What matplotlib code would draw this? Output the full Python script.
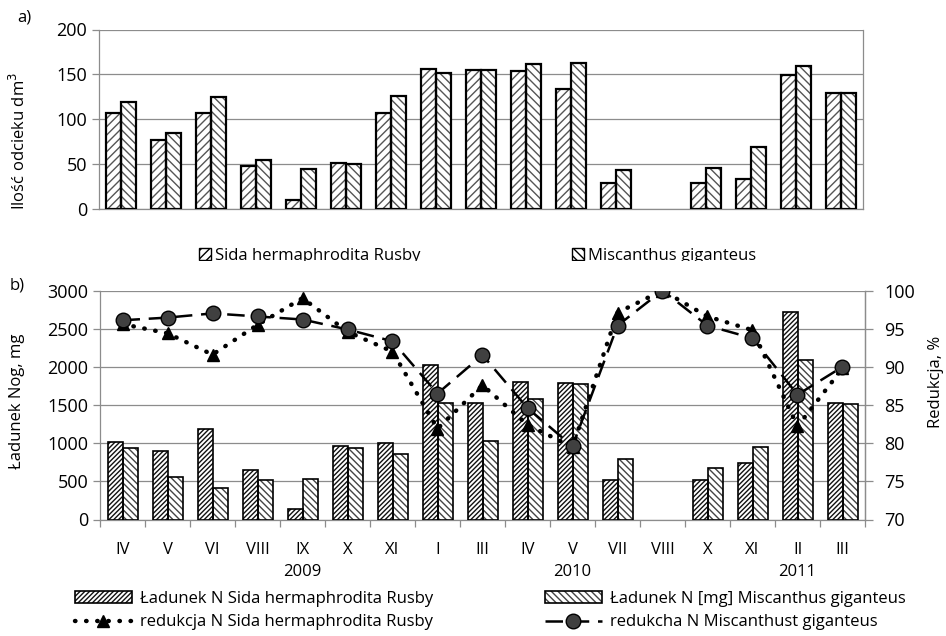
import numpy as np
import matplotlib
matplotlib.use("Agg")
import matplotlib.pyplot as plt
from matplotlib.patches import Patch, Rectangle
from matplotlib.lines import Line2D
from matplotlib.transforms import Bbox, TransformedBbox, blended_transform_factory

plt.rcParams["font.family"] = ["Open Sans", "DejaVu Sans"]
plt.rcParams["font.size"] = 12

nan = np.nan

# months along the x axis
months = ["IV", "V", "VI", "VIII", "IX", "X", "XI", "I", "III",
          "IV", "V", "VII", "VIII", "X", "XI", "II", "III"]
years = ["2009", "2010", "2011"]
year_pos = [4, 10, 15]

# a) leachate volume, dm3
leach_sida = [107, 77, 107, 47, 9, 51, 107, 156, 155, 154, 134, 28, nan, 28, 33, 149, 129]
leach_misc = [119, 84, 125, 54, 44, 50, 126, 151, 155, 162, 163, 43, nan, 45, 69, 159, 129]

# b) N load, mg
load_sida = [1017, 895, 1180, 645, 140, 965, 1004, 2026, 1526, 1798, 1785, 513, nan, 513, 737, 2719, 1526]
load_misc = [934, 561, 412, 513, 535, 934, 855, 1526, 1031, 1579, 1772, 798, nan, 675, 952, 2092, 1513]

# b) N reduction, %
red_sida = [95.6, 94.4, 91.6, 95.5, 99.0, 94.6, 92.0, 81.9, 87.6, 82.4, 79.5, 97.1, 100, 96.6, 94.8, 82.2, 89.8]
red_misc = [96.1, 96.45, 97.0, 96.6, 96.2, 94.9, 93.35, 86.5, 91.55, 84.6, 79.6, 95.4, 100, 95.4, 93.75, 86.35, 90.0]

GRID = "#8c8c8c"
W, H = 946, 636
TICK_FS = 13
TXT_FS = 12


def fx(px):
    return px / W


def fy(py):
    return 1 - py / H


def hatched_bars(ax, x, vals, width, hatch, hcolor, lw):
    ax.bar(x, vals, width, color="white", hatch=hatch, edgecolor=hcolor,
           linewidth=0, zorder=2)
    ax.bar(x, vals, width, fill=False, edgecolor="black", linewidth=lw, zorder=3)


def style_axis(ax):
    ax.spines["top"].set_visible(False)
    for s in ["left", "right", "bottom"]:
        ax.spines[s].set_color(GRID)
        ax.spines[s].set_linewidth(0.9)
    ax.yaxis.grid(True, color=GRID, linewidth=0.9)
    ax.set_axisbelow(True)
    ax.tick_params(axis="y", direction="out", length=5, color=GRID, width=0.9,
                   labelsize=TICK_FS)


fig = plt.figure(figsize=(9.46, 6.36), dpi=100)
x = np.arange(len(months))
bw = 1 / 3

# ---------------- panel a ----------------
ax1 = fig.add_axes([fx(99), fy(208.5), fx(863 - 99), (208.5 - 29.5) / H])
hatched_bars(ax1, x - bw / 2, leach_sida, bw, "////", "#555555", 1.6)
hatched_bars(ax1, x + bw / 2, leach_misc, bw, "\\\\\\\\", "#555555", 1.6)
ax1.set_xlim(-0.5, len(months) - 0.5)
ax1.set_ylim(0, 200)
ax1.set_yticks([0, 50, 100, 150, 200])
style_axis(ax1)
ax1.set_xticks([])

fig.text(fx(19), fy(141), "Ilość odcieku dm$^3$", rotation=90, ha="center",
         va="center", fontsize=TXT_FS)
fig.text(fx(24), fy(17), "a)", ha="center", va="center", fontsize=TXT_FS)

# clipped legend of panel a
clip = TransformedBbox(Bbox([[0, fy(261)], [1, 1]]), fig.transFigure)
for x0, txt, hatch in [(199, "Sida hermaphrodita Rusby", "////"),
                       (572, "Miscanthus giganteus", "\\\\\\\\")]:
    r = Rectangle((fx(x0), fy(260)), fx(12), 12 / H, transform=fig.transFigure,
                  facecolor="white", edgecolor="black", hatch=hatch, linewidth=1)
    r.set_clip_box(clip)
    fig.add_artist(r)
    t = fig.text(fx(x0 + 16), fy(260), txt, ha="left", va="baseline", fontsize=TXT_FS)
    t.set_clip_box(clip)
    t.set_clip_on(True)

# ---------------- panel b ----------------
ax2 = fig.add_axes([fx(100), fy(519.5), fx(865 - 100), (519.5 - 290.5) / H])
hatched_bars(ax2, x - bw / 2, load_sida, bw, "///////", "#111111", 1.2)
hatched_bars(ax2, x + bw / 2, load_misc, bw, "\\\\\\\\\\", "#444444", 1.2)
ax2.set_xlim(-0.5, len(months) - 0.5)
ax2.set_ylim(0, 3000)
ax2.set_yticks(np.arange(0, 3001, 500))
style_axis(ax2)
ax2.set_xticks(x)
ax2.set_xticklabels(months, fontsize=TXT_FS)
ax2.set_xticks(np.arange(-0.5, len(months), 1), minor=True)
ax2.tick_params(axis="x", which="major", length=0, pad=16)
ax2.tick_params(axis="x", which="minor", length=5, color=GRID, width=0.9)

fig.text(fx(17), fy(401), "Ładunek Nog, mg", rotation=90, ha="center",
         va="center", fontsize=TXT_FS)

trans = blended_transform_factory(ax2.transData, fig.transFigure)
for yr, p in zip(years, year_pos):
    ax2.text(p, fy(572), yr, transform=trans, ha="center", va="center",
             fontsize=TXT_FS)

ax3 = ax2.twinx()
ax3.set_ylim(70, 100)
ax3.set_yticks(np.arange(70, 101, 5))
for s in ["top", "left", "bottom"]:
    ax3.spines[s].set_visible(False)
ax3.spines["right"].set_color(GRID)
ax3.spines["right"].set_linewidth(0.9)
ax3.tick_params(axis="y", direction="out", length=6, color=GRID, width=0.9,
                labelsize=TICK_FS, pad=8)
fig.text(fx(936), fy(382), "Redukcja, %", rotation=90, ha="center",
         va="center", fontsize=TXT_FS)

ax3.plot(x, red_sida, color="black", linestyle=(0, (0.1, 2.4)), linewidth=3.2,
         dash_capstyle="round", marker="^", markersize=9,
         markerfacecolor="black", markeredgecolor="black", zorder=4)
ax3.plot(x, red_misc, color="black", linestyle=(0, (7, 3.5)), linewidth=1.8,
         marker="o", markersize=10.5, markerfacecolor="#404040",
         markeredgecolor="black", markeredgewidth=1.0, zorder=5)

fig.text(fx(17), fy(285), "b)", ha="center", va="center", fontsize=TXT_FS)

# legend of panel b
h_sida = (Patch(facecolor="white", edgecolor="#111111", hatch="///////", linewidth=0),
          Patch(fill=False, edgecolor="black", linewidth=1.2))
h_misc = (Patch(facecolor="white", edgecolor="#444444", hatch="\\\\\\\\\\", linewidth=0),
          Patch(fill=False, edgecolor="black", linewidth=1.2))
l_sida = Line2D([], [], color="black", linestyle=(0, (0.1, 2.4)), linewidth=3.2,
                dash_capstyle="round", marker="^", markersize=9,
                markerfacecolor="black")
l_misc = Line2D([], [], color="black", linestyle=(0, (7, 3.5)), linewidth=1.8,
                marker="o", markersize=10.5, markerfacecolor="#404040",
                markeredgecolor="black")

common = dict(loc="upper left", frameon=False, borderpad=0, borderaxespad=0,
              handlelength=3.4, handletextpad=0.5, labelspacing=0.45,
              fontsize=TXT_FS)
fig.legend([h_sida, l_sida], ["Ładunek N Sida hermaphrodita Rusby",
                              "redukcja N Sida hermaphrodita Rusby"],
           bbox_to_anchor=(fx(75), fy(591)), **common)
fig.legend([h_misc, l_misc], ["Ładunek N [mg] Miscanthus giganteus",
                              "redukcha N Miscanthust giganteus"],
           bbox_to_anchor=(fx(545), fy(591)), **common)

fig.savefig("out.png", dpi=100)
